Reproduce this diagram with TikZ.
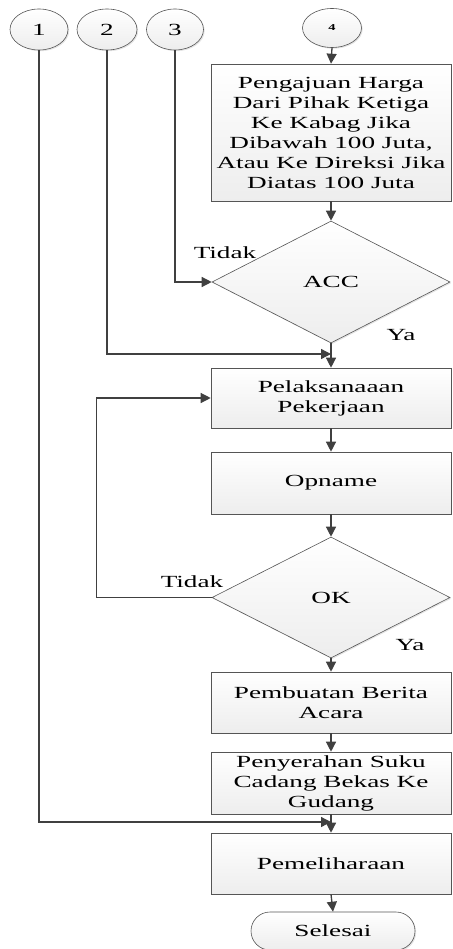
\documentclass[tikz,border=0pt]{standalone}
\usepackage{fontspec}
\setmainfont[FakeStretch=1.6]{Liberation Serif}
\usetikzlibrary{shapes.geometric,shapes.misc,arrows.meta,shadows}
\definecolor{lc}{HTML}{404040}
\definecolor{bc}{HTML}{555555}
\tikzset{
  base/.style={draw=bc, line width=0.6pt, top color=white, bottom color=gray!14,
    font=\fontsize{17}{20}\selectfont, align=center, inner sep=0pt,
    drop shadow={shadow xshift=1.2pt, shadow yshift=-1.2pt, fill=gray!35, opacity=0.6}},
  procbox/.style={base, rectangle, minimum width=240pt},
  decis/.style={base, diamond, minimum width=238pt, minimum height=122pt},
  conn/.style={base, ellipse, minimum height=41pt},
  termin/.style={base, rounded rectangle, minimum width=164pt, minimum height=38pt},
  lbl/.style={font=\fontsize{17}{20}\selectfont, inner sep=0pt},
  arr/.style={draw=lc, line width=1.3pt, -{Triangle[length=10pt,width=10pt]}},
  ln/.style={draw=lc, line width=1.3pt}
}
\begin{document}
\begin{tikzpicture}[x=1pt,y=-1pt]
\useasboundingbox (0,0) rectangle (452,949);
\clip (0,0) rectangle (452,949);
% connectors (circles)
\node[conn, minimum width=58pt] (c1) at (39,29.5) {1};
\node[conn, minimum width=60pt] (c2) at (107,29.5) {2};
\node[conn, minimum width=57pt] (c3) at (175,29.5) {3};
\node[conn, minimum width=59pt, minimum height=39pt, font=\fontsize{9}{10}\selectfont\bfseries] (c4) at (332,28) {4};
% process boxes
\node[procbox, minimum height=137pt] (b1) at (331,132.5) {Pengajuan Harga\\Dari Pihak Ketiga\\Ke Kabag Jika\\Dibawah 100 Juta,\\Atau Ke Direksi Jika\\Diatas 100 Juta};
\node[decis] (acc) at (331,282) {ACC};
\node[procbox, minimum height=60pt] (b2) at (331,398) {Pelaksanaaan\\Pekerjaan};
\node[procbox, minimum height=62pt] (b3) at (331,483) {Opname};
\node[decis, minimum height=121pt] (ok) at (331,597.5) {OK};
\node[procbox, minimum height=61pt] (b4) at (331,702.5) {Pembuatan Berita\\Acara};
\node[procbox, minimum height=62pt] (b5) at (331,783) {Penyerahan Suku\\Cadang Bekas Ke\\Gudang};
\node[procbox, minimum height=61pt] (b6) at (331,863.5) {Pemeliharaan};
\node[termin] (end) at (333,931) {Selesai};
% labels
\node[lbl] (t1) at (225,253) {Tidak};
\node[lbl] (y1) at (401,335) {Ya};
\node[lbl] (t2) at (192,582) {Tidak};
\node[lbl] (y2) at (410,645) {Ya};
% junction points
\coordinate (j1) at (331,354);
\coordinate (j2) at (331,822);
% arrows
\draw[arr] (c4.south) -- (b1.north);
\draw[arr] (b1.south) -- (acc.north);
\draw[arr] (c3.south) |- (acc.west);
\draw[arr] (c2.south) |- (j1);
\draw[arr] (acc.south) -- (b2.north);
\draw[arr] (b2.south) -- (b3.north);
\draw[arr] (b3.south) -- (ok.north);
\draw[arr] (ok.west) -- ++(-115,0) |- (b2.west);
\draw[arr] (ok.south) -- (b4.north);
\draw[arr] (b4.south) -- (b5.north);
\draw[arr] (c1.south) |- (j2);
\draw[arr] (b5.south) -- (b6.north);
\draw[arr] (b6.south) -- (end.north);
\end{tikzpicture}
\end{document}
